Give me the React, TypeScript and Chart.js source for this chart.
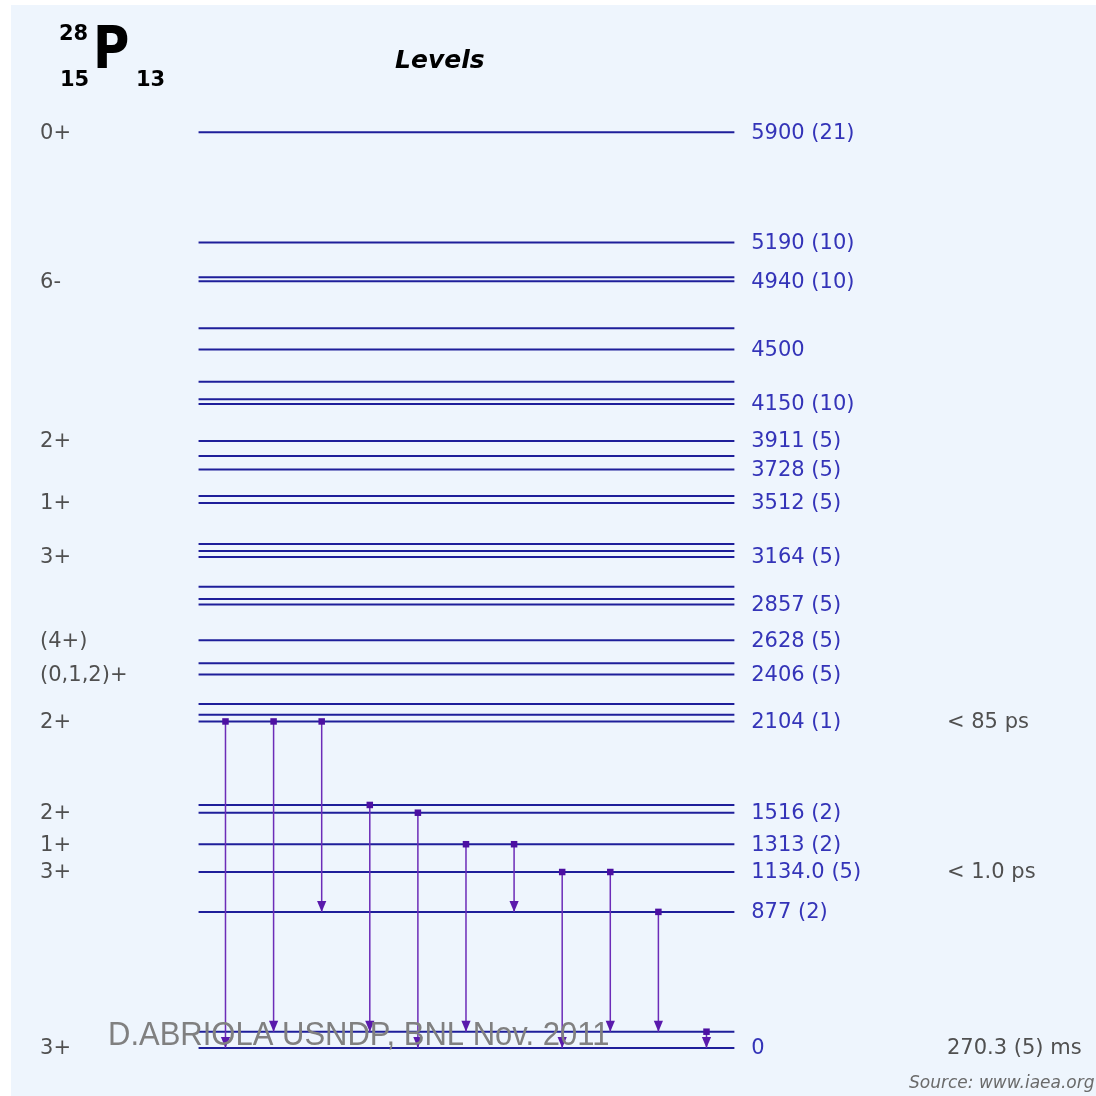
import React, { useEffect, useRef } from "react";
import { Chart, registerables } from "chart.js";
Chart.register(...registerables);

// ---- Data (keV) ----
const levelEnergies = [0, 105, 877, 1134, 1313, 1516, 1566, 2104, 2148, 2216, 2406, 2479, 2628, 2857, 2893, 2972, 3164, 3202, 3247, 3512, 3557, 3728, 3814, 3911, 4150, 4180, 4293, 4500, 4637, 4940, 4966, 5190, 5900];

const labeledEnergies = [5900, 5190, 4940, 4500, 4150, 3911, 3728, 3512, 3164, 2857, 2628, 2406, 2104, 1516, 1313, 1134, 877, 0];
const energyLabels = ["5900 (21)", "5190 (10)", "4940 (10)", "4500", "4150 (10)", "3911 (5)", "3728 (5)", "3512 (5)", "3164 (5)", "2857 (5)", "2628 (5)", "2406 (5)", "2104 (1)", "1516 (2)", "1313 (2)", "1134.0 (5)", "877 (2)", "0"];

const spinEnergies = [5900, 4940, 3911, 3512, 3164, 2628, 2406, 2104, 1516, 1313, 1134, 0];
const spinLabels = ["0+", "6-", "2+", "1+", "3+", "(4+)", "(0,1,2)+", "2+", "2+", "1+", "3+", "3+"];

const halfLifeEnergies = [2104, 1134, 0];
const halfLifeLabels = ["< 85 ps", "< 1.0 ps", "270.3 (5) ms"];

const gammaFrom = [2104, 2104, 2104, 1566, 1516, 1313, 1313, 1134, 1134, 877, 105];
const gammaTo = [0, 105, 877, 105, 0, 105, 877, 0, 105, 105, 0];

// ---- Layout constants ----
const W = 1096;
const H = 1096;
const X_MIN = -4.688;
const X_MAX = 18.098;
const Y_MIN = -309.3;
const Y_MAX = 6752.6;
const LINE_START = -0.56;
const LINE_END = 10.58;
const SPIN_X = -3.855;
const ENERGY_X = 10.93;
const HALF_X = 15.0;

const LEVEL_COLOR = "#1e1e9a";
const LABEL_BLUE = "#3434b8";
const GRAY = "#505050";
const GAMMA_COLOR = "#6c2cb8";
const GAMMA_MARK = "#4c10a2";
const BG = "#eef5fd";
const FONT = '"DejaVu Sans", Verdana, sans-serif';

export default function App() {
  const ref = useRef<HTMLCanvasElement | null>(null);

  useEffect(() => {
    const canvas = ref.current;
    if (!canvas) return;

    const levelDatasets = levelEnergies.map((e) => ({
      data: [
        { x: LINE_START, y: e },
        { x: LINE_END, y: e },
      ],
      showLine: true,
      borderColor: LEVEL_COLOR,
      borderWidth: 2,
      pointRadius: 0,
      order: 2,
    }));

    const gammaDatasets = gammaFrom.map((from, i) => ({
      data: [
        { x: i, y: from },
        { x: i, y: gammaTo[i] },
      ],
      showLine: true,
      borderColor: GAMMA_COLOR,
      borderWidth: 1.5,
      pointStyle: "rect",
      pointRadius: [4.6, 0],
      pointBackgroundColor: GAMMA_MARK,
      pointBorderWidth: 0,
      order: 1,
      isGamma: true,
    }));

    const bgPlugin = {
      id: "bgPlugin",
      beforeDraw(chart: any) {
        const ctx = chart.ctx;
        ctx.save();
        ctx.fillStyle = "#ffffff";
        ctx.fillRect(0, 0, W, H);
        ctx.fillStyle = BG;
        ctx.fillRect(11, 5, W - 11, H - 5);
        ctx.restore();
      },
    };

    const arrowPlugin = {
      id: "arrowPlugin",
      afterDatasetsDraw(chart: any) {
        const ctx = chart.ctx;
        ctx.save();
        ctx.fillStyle = "#5a1aac";
        chart.data.datasets.forEach((ds: any, i: number) => {
          if (!ds.isGamma) return;
          const meta = chart.getDatasetMeta(i);
          const end = meta.data[1];
          if (!end) return;
          const x = end.x;
          const y = end.y;
          ctx.beginPath();
          ctx.moveTo(x, y);
          ctx.lineTo(x - 4.6, y - 11);
          ctx.lineTo(x + 4.6, y - 11);
          ctx.closePath();
          ctx.fill();
        });
        ctx.restore();
      },
    };

    const textPlugin = {
      id: "textPlugin",
      afterDraw(chart: any) {
        const ctx = chart.ctx;
        const xs = chart.scales.x;
        const ys = chart.scales.y;
        ctx.save();
        ctx.textBaseline = "middle";
        ctx.textAlign = "left";
        ctx.font = `21px ${FONT}`;

        ctx.fillStyle = LABEL_BLUE;
        labeledEnergies.forEach((e, i) => {
          ctx.fillText(energyLabels[i], xs.getPixelForValue(ENERGY_X), ys.getPixelForValue(e) + 1);
        });

        ctx.fillStyle = GRAY;
        spinEnergies.forEach((e, i) => {
          ctx.fillText(spinLabels[i], xs.getPixelForValue(SPIN_X), ys.getPixelForValue(e) + 1);
        });
        halfLifeEnergies.forEach((e, i) => {
          ctx.fillText(halfLifeLabels[i], xs.getPixelForValue(HALF_X), ys.getPixelForValue(e) + 1);
        });

        // Title: nuclide symbol
        ctx.textBaseline = "alphabetic";
        ctx.fillStyle = "#000000";
        ctx.save();
        ctx.translate(93, 68);
        ctx.scale(0.84, 1);
        ctx.font = `bold 59px ${FONT}`;
        ctx.fillText("P", 0, 0);
        ctx.restore();
        ctx.font = `bold 21px ${FONT}`;
        ctx.fillText("28", 59, 40);
        ctx.fillText("15", 60, 86);
        ctx.fillText("13", 136, 86);

        ctx.font = `italic bold 25px ${FONT}`;
        ctx.fillText("Levels", 395, 68);

        // Source
        ctx.fillStyle = "#6a6a6a";
        ctx.font = `italic 17px ${FONT}`;
        ctx.fillText("Source: www.iaea.org", 909, 1088);

        // Watermark
        ctx.fillStyle = "#808080";
        ctx.save();
        ctx.translate(108, 1045);
        ctx.scale(1, 1.05);
        ctx.font = `31px "Liberation Sans", Arial, sans-serif`;
        ctx.fillText("D.ABRIOLA USNDP, BNL Nov. 2011", 0, 0);
        ctx.restore();
        ctx.restore();
      },
    };

    const chart = new Chart(canvas, {
      type: "scatter",
      data: { datasets: [...gammaDatasets, ...levelDatasets] as any },
      options: {
        animation: false,
        responsive: false,
        maintainAspectRatio: false,
        events: [],
        layout: { padding: 0, autoPadding: false },
        plugins: {
          legend: { display: false },
          tooltip: { enabled: false },
          title: { display: false },
        },
        scales: {
          x: { type: "linear", min: X_MIN, max: X_MAX, display: false },
          y: { type: "linear", min: Y_MIN, max: Y_MAX, display: false },
        },
      },
      plugins: [bgPlugin, arrowPlugin, textPlugin],
    });

    return () => chart.destroy();
  }, []);

  return (
    <div style={{ position: "fixed", left: 0, top: 0, width: W, height: H }}>
      <canvas ref={ref} width={W} height={H} style={{ display: "block", width: W, height: H }} />
    </div>
  );
}
